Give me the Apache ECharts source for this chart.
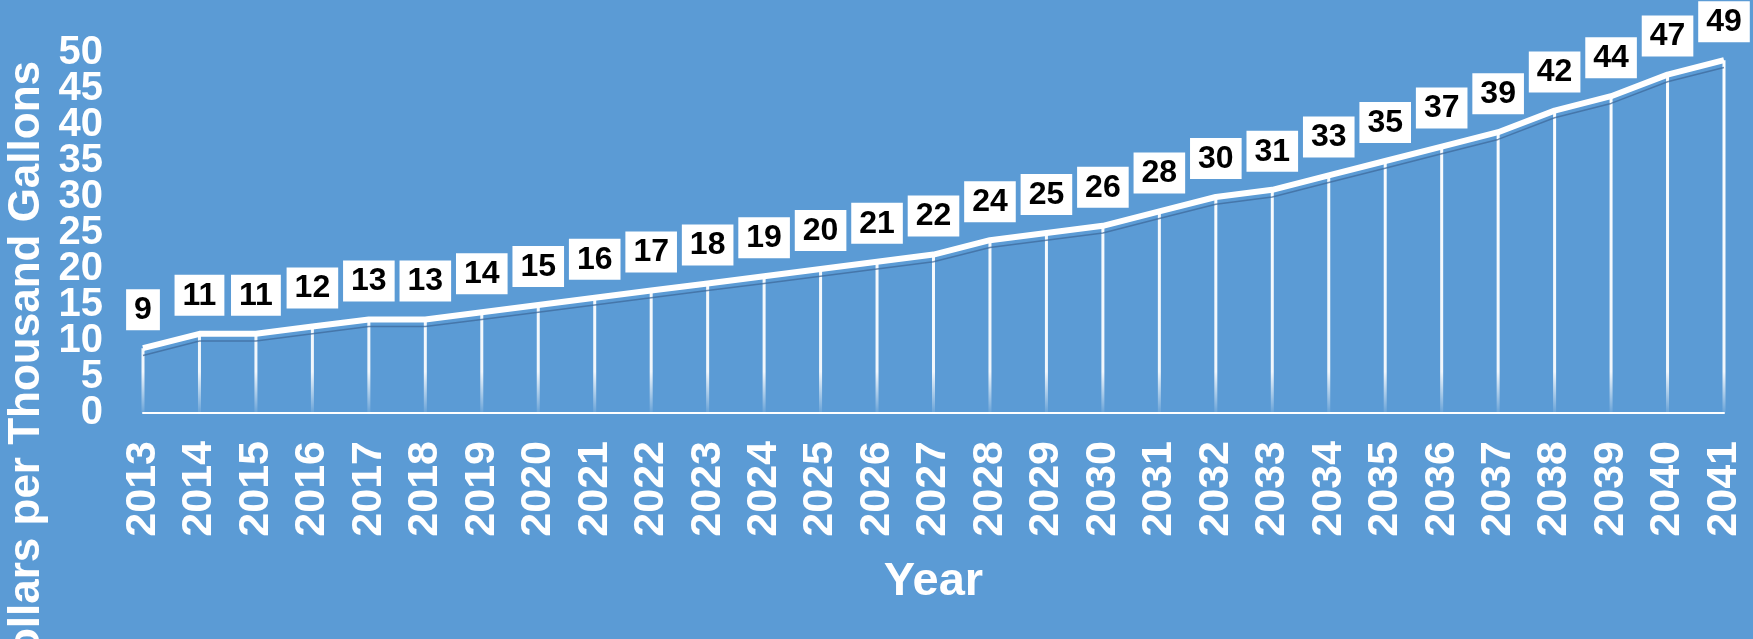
<!DOCTYPE html>
<html>
<head>
<meta charset="utf-8">
<title>Dollars per Thousand Gallons by Year</title>
<script src="https://cdn.jsdelivr.net/npm/echarts@6/dist/echarts.min.js"></script>
<style>
  html, body { margin: 0; padding: 0; background: #5B9BD5; }
  #chart { width: 1753px; height: 639px; }
</style>
</head>
<body>
<div id="chart"></div>
<script>
// Projected cost per thousand gallons, 2013–2041
const years = ['2013','2014','2015','2016','2017','2018','2019','2020','2021','2022',
  '2023','2024','2025','2026','2027','2028','2029','2030','2031','2032',
  '2033','2034','2035','2036','2037','2038','2039','2040','2041'];
const dollars = [9, 11, 11, 12, 13, 13, 14, 15, 16, 17,
  18, 19, 20, 21, 22, 24, 25, 26, 28, 30,
  31, 33, 35, 37, 39, 42, 44, 47, 49];
const yTickValues = [0, 5, 10, 15, 20, 25, 30, 35, 40, 45, 50];
const yTitle = 'Dollars per Thousand Gallons';
const xTitle = 'Year';

const FONT = '"Liberation Sans", Arial, sans-serif';
const Y_MIN = yTickValues[0];
const Y_MAX = yTickValues[yTickValues.length - 1];

// The tick labels sit very close together, so they are split over two
// coincident axes (even / odd steps) to keep every one of them visible.
const evenTicks = yTickValues.filter((v, i) => i % 2 === 0);
const oddTicks = yTickValues.filter((v, i) => i % 2 === 1);

function labelAxis(values) {
  return {
    type: 'value',
    position: 'left',
    min: Y_MIN, max: Y_MAX,
    axisLine: { show: false },
    axisTick: { show: false },
    splitLine: { show: false },
    axisLabel: {
      customValues: values,
      margin: 40, color: '#ffffff', fontSize: 40,
      fontWeight: 'bold', fontFamily: FONT,
      showMinLabel: true, showMaxLabel: true, hideOverlap: false
    }
  };
}

const chart = echarts.init(document.getElementById('chart'), null, { renderer: 'canvas' });

chart.setOption({
  backgroundColor: '#5B9BD5',
  animation: false,
  grid: { left: 143, right: 29, top: 53, bottom: 226, containLabel: false },
  xAxis: {
    type: 'category',
    data: years,
    boundaryGap: false,
    axisLine: { lineStyle: { color: '#ffffff', width: 2 } },
    axisTick: { show: false },
    axisLabel: {
      rotate: 90, margin: 28, color: '#ffffff',
      fontSize: 43, fontWeight: 'bold', fontFamily: FONT, interval: 0
    },
    name: xTitle,
    nameLocation: 'middle',
    nameGap: 146,
    nameTextStyle: { color: '#ffffff', fontSize: 47, fontWeight: 'bold', fontFamily: FONT }
  },
  yAxis: [
    labelAxis(evenTicks),
    labelAxis(oddTicks),
    {
      // slightly shifted scale for the ribbon's lower edge
      type: 'value', show: false,
      min: Y_MIN + 1, max: Y_MAX + 1
    }
  ],
  graphic: [{
    type: 'text',
    x: 27, y: 61,
    rotation: Math.PI / 2,
    silent: true,
    style: {
      text: yTitle, align: 'right', verticalAlign: 'middle',
      fill: '#ffffff', fontSize: 44, fontWeight: 'bold', fontFamily: FONT
    }
  }],
  series: [{
    // drop lines from each year's value to the baseline
    type: 'bar',
    data: dollars,
    barWidth: 3,
    z: 1,
    itemStyle: {
      color: {
        type: 'linear', x: 0, y: 0, x2: 0, y2: 413, global: true,
        colorStops: [
          { offset: 0, color: 'rgba(255,255,255,1)' },
          { offset: 0.9, color: 'rgba(255,255,255,0.92)' },
          { offset: 1, color: 'rgba(255,255,255,0.08)' }
        ]
      }
    },
    label: {
      show: true, position: 'top', distance: 18,
      backgroundColor: '#ffffff', padding: [5, 8, 4, 8],
      color: '#000000', fontSize: 32, fontWeight: 'bold', fontFamily: FONT
    }
  }, {
    // lower edge of the ribbon
    type: 'line',
    data: dollars,
    yAxisIndex: 2,
    symbol: 'none',
    z: 2,
    lineStyle: { color: 'rgba(62,105,155,0.75)', width: 1.5 }
  }, {
    type: 'line',
    data: dollars,
    symbol: 'none',
    z: 3,
    lineStyle: { color: '#ffffff', width: 6, cap: 'butt', join: 'round' }
  }]
});
</script>
</body>
</html>
